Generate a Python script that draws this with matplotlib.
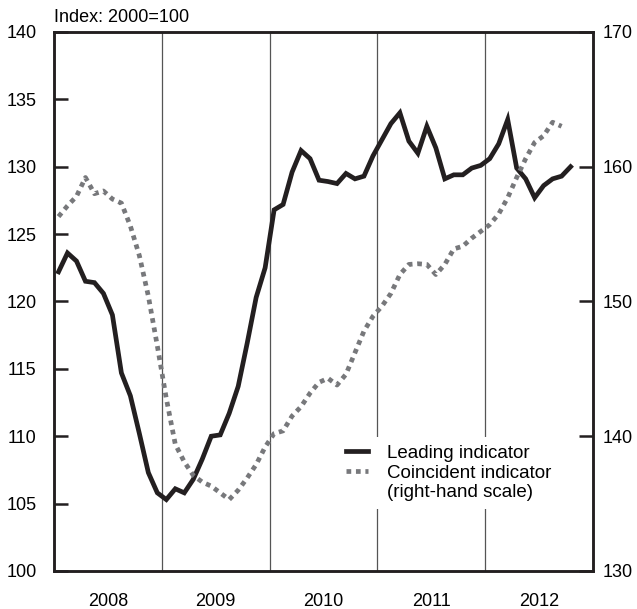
import numpy as np
import matplotlib
matplotlib.use("Agg")
import matplotlib.pyplot as plt
from matplotlib.lines import Line2D

plt.rcParams['font.family'] = ['Liberation Sans', 'DejaVu Sans']
plt.rcParams['font.size'] = 13

# monthly values from Jan 2008
leading = [122.2, 123.6, 123.0, 121.5, 121.4, 120.6, 119.0, 114.7, 113.0, 110.2, 107.3, 105.8,
           105.3, 106.1, 105.8, 106.8, 108.3, 110.0, 110.1, 111.7, 113.7, 116.9, 120.3, 122.5,
           126.8, 127.2, 129.6, 131.2, 130.6, 129.0, 128.9, 128.75, 129.5, 129.1, 129.3, 130.8,
           132.0, 133.2, 134.0, 131.9, 131.0, 133.0, 131.4, 129.1, 129.4, 129.4, 129.9, 130.1,
           130.6, 131.7, 133.5, 129.9, 129.1, 127.7, 128.6, 129.1, 129.3, 130.0]
coincident = [156.3, 157.1, 157.8, 159.2, 158.0, 158.2, 157.6, 157.3, 155.6, 153.4, 150.4, 146.7,
              142.8, 139.4, 138.1, 137.1, 136.6, 136.3, 135.8, 135.3, 136.0, 136.9, 137.9, 139.2,
              140.2, 140.4, 141.5, 142.2, 143.2, 144.0, 144.3, 143.8, 144.6, 146.2, 147.8, 148.9,
              149.65, 150.6, 152.0, 152.75, 152.8, 152.75, 152.0, 152.75, 153.9, 154.1, 154.7, 155.2,
              155.7, 156.5, 157.7, 159.2, 160.6, 161.8, 162.3, 163.3, 163.0]
years = ['2008', '2009', '2010', '2011', '2012']

dark = '#231f20'
grey = '#77787b'
lw = 3.4

fig = plt.figure(figsize=(6.37, 6.09), dpi=100)
ax = fig.add_axes([0.0848, 0.0624, 0.8462, 0.8851])
ax2 = ax.twinx()

# year separators
for k in range(1, len(years)):
    ax.axvline(12 * k, color='#555555', lw=0.9, zorder=1)

xl = np.arange(len(leading)) + 0.5
xc = np.arange(len(coincident)) + 0.5
ax.plot(xl, leading, color=dark, lw=lw, solid_joinstyle='miter', zorder=3)
ax2.plot(xc, coincident, color=grey, lw=lw, linestyle=(0, (1, 1)),
         dash_capstyle='butt', zorder=3)

ax.set_xlim(0, 12 * len(years))
ax.set_ylim(100, 140)
ax2.set_ylim(130, 170)
ax.set_yticks(np.arange(100, 141, 5))
ax2.set_yticks(np.arange(130, 171, 10))

ax.set_xticks(np.arange(0, 12 * len(years) + 1, 12))
ax.set_xticklabels([])
ax.set_xticks(np.arange(6, 12 * len(years), 12), minor=True)
ax.set_xticklabels(years, minor=True)
ax.tick_params(axis='x', which='both', length=0)
ax.tick_params(axis='x', which='minor', pad=16)

ax.tick_params(axis='y', direction='in', length=10, width=1.8, color=dark, pad=12.5)
ax2.tick_params(axis='y', direction='in', length=10, width=1.8, color=dark, pad=7)

for a in (ax, ax2):
    for s in a.spines.values():
        s.set_color(dark)
        s.set_linewidth(1.8)

ax.text(0, 1.012, 'Index: 2000=100', transform=ax.transAxes, ha='left', va='bottom')

handles = [Line2D([], [], color=dark, lw=lw),
           Line2D([], [], color=grey, lw=lw, linestyle=(0, (1, 1)), dash_capstyle='butt'),
           Line2D([], [], color='none')]
labels = ['Leading indicator', 'Coincident indicator', '(right-hand scale)']
leg = ax2.legend(handles, labels, loc='upper left', bbox_to_anchor=(0.51, 0.266),
                 frameon=True, facecolor='white', edgecolor='none', framealpha=1,
                 fancybox=False, handlelength=1.2, handletextpad=1.0,
                 labelspacing=0.15, borderpad=0.4, fontsize=13.5)

fig.savefig('out.png', dpi=100)
